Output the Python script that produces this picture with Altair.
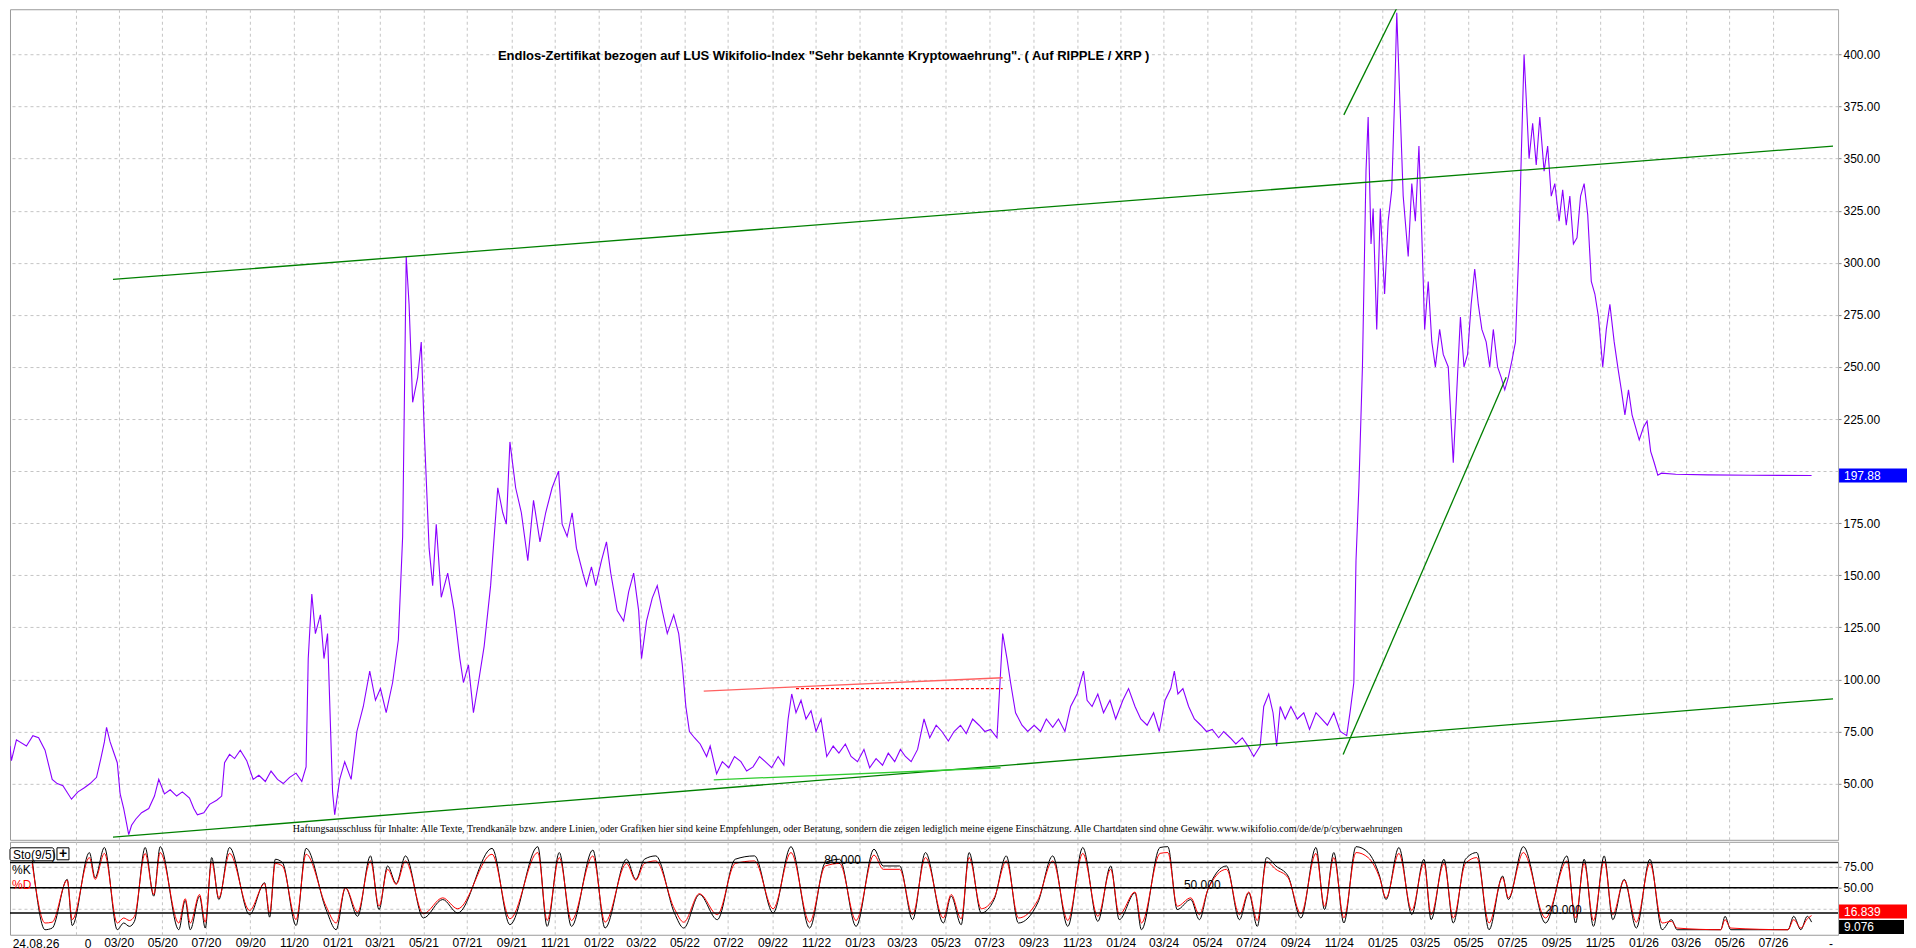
import altair as alt
import pandas as pd

# ---------------- price series (Endlos-Zertifikat) ----------------
price_dates = [
    "2019-10-01", "2019-10-03", "2019-10-10", "2019-10-24", "2019-11-02", "2019-11-10", "2019-11-19", "2019-11-29",
    "2019-12-06", "2019-12-14", "2019-12-26", "2020-01-04", "2020-01-13", "2020-01-21", "2020-01-30", "2020-02-05",
    "2020-02-10", "2020-02-13", "2020-02-18", "2020-02-22", "2020-02-28", "2020-03-03", "2020-03-08", "2020-03-15",
    "2020-03-19", "2020-03-25", "2020-04-02", "2020-04-12", "2020-04-20", "2020-04-26", "2020-05-04", "2020-05-12",
    "2020-05-21", "2020-05-29", "2020-06-08", "2020-06-14", "2020-06-19", "2020-06-28", "2020-07-06", "2020-07-16",
    "2020-07-23", "2020-07-27", "2020-08-03", "2020-08-10", "2020-08-18", "2020-08-27", "2020-09-05", "2020-09-13",
    "2020-09-22", "2020-09-30", "2020-10-09", "2020-10-17", "2020-10-26", "2020-11-04", "2020-11-12", "2020-11-18",
    "2020-11-21", "2020-11-26", "2020-12-01", "2020-12-08", "2020-12-13", "2020-12-18", "2020-12-25", "2020-12-28",
    "2021-01-04", "2021-01-11", "2021-01-20", "2021-01-28", "2021-02-06", "2021-02-15", "2021-02-23", "2021-03-02",
    "2021-03-10", "2021-03-19", "2021-03-27", "2021-04-02", "2021-04-07", "2021-04-11", "2021-04-16", "2021-04-23",
    "2021-04-28", "2021-05-02", "2021-05-09", "2021-05-14", "2021-05-19", "2021-05-26", "2021-06-04", "2021-06-13",
    "2021-06-21", "2021-06-26", "2021-07-03", "2021-07-10", "2021-07-17", "2021-07-25", "2021-08-03", "2021-08-08",
    "2021-08-13", "2021-08-20", "2021-08-25", "2021-08-30", "2021-09-07", "2021-09-15", "2021-09-24", "2021-10-02",
    "2021-10-11", "2021-10-19", "2021-10-28", "2021-11-06", "2021-11-11", "2021-11-18", "2021-11-25", "2021-12-01",
    "2021-12-10", "2021-12-15", "2021-12-22", "2021-12-28", "2022-01-05", "2022-01-12", "2022-01-18", "2022-01-27",
    "2022-02-05", "2022-02-12", "2022-02-19", "2022-02-26", "2022-03-02", "2022-03-09", "2022-03-17", "2022-03-24",
    "2022-03-31", "2022-04-07", "2022-04-16", "2022-04-23", "2022-04-28", "2022-05-03", "2022-05-08", "2022-05-15",
    "2022-05-23", "2022-06-01", "2022-06-06", "2022-06-15", "2022-06-23", "2022-07-02", "2022-07-10", "2022-07-19",
    "2022-07-27", "2022-08-05", "2022-08-14", "2022-08-22", "2022-08-31", "2022-09-09", "2022-09-17", "2022-09-23",
    "2022-09-28", "2022-10-04", "2022-10-11", "2022-10-18", "2022-10-25", "2022-11-01", "2022-11-08", "2022-11-16",
    "2022-11-25", "2022-12-03", "2022-12-12", "2022-12-20", "2022-12-29", "2023-01-07", "2023-01-15", "2023-01-24",
    "2023-02-02", "2023-02-10", "2023-02-19", "2023-02-27", "2023-03-06", "2023-03-14", "2023-03-23", "2023-04-01",
    "2023-04-09", "2023-04-18", "2023-04-26", "2023-05-05", "2023-05-13", "2023-05-22", "2023-05-30", "2023-06-08",
    "2023-06-17", "2023-06-25", "2023-07-03", "2023-07-12", "2023-07-20", "2023-07-26", "2023-07-31", "2023-08-07",
    "2023-08-16", "2023-08-24", "2023-09-02", "2023-09-11", "2023-09-19", "2023-09-28", "2023-10-06", "2023-10-15",
    "2023-10-23", "2023-11-01", "2023-11-10", "2023-11-15", "2023-11-22", "2023-11-30", "2023-12-08", "2023-12-17",
    "2023-12-25", "2024-01-04", "2024-01-12", "2024-01-21", "2024-01-29", "2024-02-07", "2024-02-16", "2024-02-24",
    "2024-03-03", "2024-03-11", "2024-03-16", "2024-03-21", "2024-03-28", "2024-04-05", "2024-04-13", "2024-04-22",
    "2024-04-30", "2024-05-08", "2024-05-17", "2024-05-24", "2024-06-02", "2024-06-10", "2024-06-19", "2024-06-27",
    "2024-07-05", "2024-07-14", "2024-07-19", "2024-07-26", "2024-08-01", "2024-08-06", "2024-08-11", "2024-08-18",
    "2024-08-26", "2024-09-04", "2024-09-13", "2024-09-21", "2024-09-30", "2024-10-08", "2024-10-16", "2024-10-25",
    "2024-11-03", "2024-11-12", "2024-11-17", "2024-11-22", "2024-11-25", "2024-11-29", "2024-12-04", "2024-12-09",
    "2024-12-12", "2024-12-16", "2024-12-19", "2024-12-24", "2024-12-29", "2025-01-04", "2025-01-09", "2025-01-14",
    "2025-01-18", "2025-01-21", "2025-01-24", "2025-01-30", "2025-02-06", "2025-02-11", "2025-02-16", "2025-02-21",
    "2025-02-26", "2025-03-01", "2025-03-06", "2025-03-11", "2025-03-16", "2025-03-22", "2025-03-27", "2025-04-03",
    "2025-04-10", "2025-04-15", "2025-04-20", "2025-04-25", "2025-04-30", "2025-05-05", "2025-05-10", "2025-05-15",
    "2025-05-20", "2025-05-26", "2025-05-31", "2025-06-05", "2025-06-11", "2025-06-16", "2025-06-21", "2025-06-26",
    "2025-07-01", "2025-07-06", "2025-07-11", "2025-07-14", "2025-07-18", "2025-07-21", "2025-07-25", "2025-07-30",
    "2025-08-04", "2025-08-09", "2025-08-15", "2025-08-20", "2025-08-25", "2025-08-30", "2025-09-05", "2025-09-10",
    "2025-09-15", "2025-09-20", "2025-09-25", "2025-09-30", "2025-10-05", "2025-10-10", "2025-10-15", "2025-10-20",
    "2025-10-25", "2025-10-30", "2025-11-05", "2025-11-10", "2025-11-15", "2025-11-21", "2025-11-26", "2025-12-01",
    "2025-12-06", "2025-12-11", "2025-12-16", "2025-12-21", "2025-12-26", "2026-01-01", "2026-01-06", "2026-01-11",
    "2026-01-16", "2026-01-21", "2026-01-26", "2026-02-15", "2026-04-01", "2026-06-01", "2026-08-24",
]
price_vals = [
    68, 61, 71, 68, 73, 72, 66, 52,
    50, 49, 42.5, 46, 48, 50, 53, 62,
    70, 77, 70, 66, 60, 45, 38, 25.5,
    30, 33, 36, 38, 44, 52, 45, 47,
    44, 46, 43, 38, 35, 36, 40, 42,
    44, 60, 64, 62, 66, 61, 52, 54,
    51, 56, 52, 50, 53, 55, 51, 58,
    110, 141, 122, 131, 110, 122, 46, 35,
    52, 60.5, 52, 75, 87, 104, 90, 95.6,
    84, 98.5, 119, 168.6, 303, 280, 233, 245,
    262, 221, 163, 145, 174.5, 139.4, 151, 133,
    110, 98.5, 107, 84, 98.5, 116, 145, 168.6,
    192, 180, 174.5, 214, 192, 180, 157, 186,
    166, 180, 192, 200, 174.5, 168.6, 180, 163,
    151, 145, 154, 145, 157, 166, 151, 133,
    128, 142, 151, 133, 110, 128, 139, 145,
    133, 122, 131, 122, 107, 87, 75, 72,
    69, 63, 68, 54.7, 60.5, 57.6, 63, 60.5,
    56, 58, 63, 60.5, 57.6, 63, 58.8, 81,
    93, 84, 90, 81, 85, 75, 81, 63,
    68, 64.6, 69, 63, 60.5, 66.4, 57.6, 62,
    58.8, 64.6, 60.5, 66.4, 63, 60.5, 66.4, 81,
    72, 78, 75, 70.4, 75, 78, 74, 81,
    78, 75, 76, 72, 122, 110, 98.5, 84,
    78, 75, 78, 75, 81, 77, 81, 75,
    87, 93, 104, 90, 87, 93, 84, 90,
    81, 90, 95.6, 87, 81, 78, 84, 75,
    90, 95.6, 104, 93, 95.6, 87, 81, 78,
    75, 76, 72, 75, 72, 69, 72, 68,
    63, 68, 87, 93, 84, 68, 87, 81,
    87, 81, 84, 76, 84, 81, 78, 84,
    75, 73, 85, 98.5, 157, 192, 250, 344,
    370, 309, 326, 268, 326, 285, 320, 335,
    379, 420, 391, 332, 303, 338, 320, 356,
    303, 268, 291, 262, 250, 268, 256, 250,
    204, 239, 274, 250, 256, 280, 297, 280,
    268, 262, 250, 268, 250, 245, 239, 245,
    253, 262, 309, 350, 400, 379, 350, 367,
    347, 370, 344, 356, 332, 338, 320, 335,
    318, 332, 309, 312, 332, 338, 323, 291,
    285, 274, 250, 268, 280, 262, 250, 239,
    227, 239, 227, 221, 215, 221, 224, 209.5,
    204, 198, 199, 198.5, 198.2, 198.0, 197.88,
]

# ---------------- stochastic Sto(9/5) ----------------
sto_dates = [
    "2019-11-01", "2019-11-19", "2019-11-29", "2019-12-20", "2019-12-27", "2020-01-20", "2020-01-28", "2020-02-10", "2020-02-28", "2020-03-08",
    "2020-03-16", "2020-03-23", "2020-04-07", "2020-04-19", "2020-04-28", "2020-05-24", "2020-06-02", "2020-06-09", "2020-06-22", "2020-06-30",
    "2020-07-09", "2020-07-19", "2020-08-03", "2020-08-31", "2020-09-21", "2020-09-28", "2020-10-06", "2020-10-16", "2020-11-04", "2020-11-18",
    "2020-12-16", "2020-12-30", "2021-01-12", "2021-01-29", "2021-02-16", "2021-02-28", "2021-03-12", "2021-03-24", "2021-04-06", "2021-05-01",
    "2021-05-28", "2021-06-18", "2021-08-05", "2021-08-30", "2021-10-08", "2021-10-21", "2021-11-07", "2021-11-24", "2021-12-24", "2022-01-10",
    "2022-02-09", "2022-02-22", "2022-03-06", "2022-03-22", "2022-04-17", "2022-04-30", "2022-05-22", "2022-06-16", "2022-07-11", "2022-08-07",
    "2022-09-02", "2022-09-27", "2022-10-23", "2022-11-14", "2022-12-04", "2022-12-27", "2023-01-21", "2023-02-03", "2023-02-26", "2023-03-16",
    "2023-04-03", "2023-04-28", "2023-05-09", "2023-05-23", "2023-06-03", "2023-06-20", "2023-07-08", "2023-07-25", "2023-08-11", "2023-09-07",
    "2023-09-28", "2023-10-19", "2023-11-09", "2023-11-30", "2023-12-18", "2023-12-30", "2024-01-21", "2024-01-30", "2024-02-25", "2024-03-07",
    "2024-03-20", "2024-04-08", "2024-04-20", "2024-05-02", "2024-05-28", "2024-06-15", "2024-06-28", "2024-07-10", "2024-07-23", "2024-08-05",
    "2024-08-22", "2024-09-09", "2024-09-30", "2024-10-12", "2024-10-25", "2024-11-08", "2024-11-25", "2024-12-12", "2024-12-28", "2025-01-06",
    "2025-01-24", "2025-02-11", "2025-02-28", "2025-03-10", "2025-03-28", "2025-04-10", "2025-04-27", "2025-05-13", "2025-05-30", "2025-06-18",
    "2025-06-26", "2025-07-17", "2025-08-17", "2025-09-16", "2025-09-28", "2025-10-10", "2025-10-23", "2025-11-07", "2025-11-19", "2025-12-05",
    "2025-12-22", "2026-01-10", "2026-01-27", "2026-02-09", "2026-02-17", "2026-04-19", "2026-04-25", "2026-05-03", "2026-07-22", "2026-07-30",
    "2026-08-09", "2026-08-18", "2026-08-24",
]
sto_k = [
    84, 0, 2, 60, 5, 92, 62, 98, 0, 8,
    4, 10, 98, 40, 99, 0, 35, 0, 40, 2,
    86, 36, 98, 18, 56, 15, 84, 80, 5, 97,
    24, 0, 50, 16, 88, 24, 76, 55, 88, 14,
    36, 20, 97, 6, 99, 4, 92, 4, 95, 2,
    84, 60, 84, 88, 20, 2, 42, 12, 84, 88,
    20, 99, 2, 80, 84, 4, 96, 76, 76, 12,
    92, 8, 40, 6, 92, 20, 36, 88, 8, 32,
    88, 4, 98, 10, 76, 12, 44, 0, 98, 99,
    24, 36, 12, 48, 76, 12, 44, 4, 86, 76,
    64, 14, 98, 24, 92, 8, 99, 92, 64, 36,
    98, 18, 84, 12, 84, 8, 84, 92, 0, 64,
    36, 99, 8, 88, 8, 84, 4, 88, 12, 60,
    2, 84, 0, 12, 0, 0, 16, 0, 0, 16,
    0, 16, 9.076,
]
sto_d = [
    79, 8, 9, 59, 12, 86, 60, 91, 8, 14,
    11, 16, 91, 42, 92, 8, 37, 8, 42, 9,
    81, 38, 91, 23, 55, 20, 79, 76, 12, 90,
    28, 8, 50, 21, 82, 28, 72, 54, 82, 19,
    38, 25, 90, 13, 92, 11, 86, 11, 88, 9,
    79, 59, 79, 82, 25, 9, 43, 18, 79, 82,
    25, 92, 9, 76, 79, 11, 89, 72, 72, 18,
    86, 14, 42, 13, 86, 25, 38, 82, 14, 35,
    82, 11, 91, 16, 72, 18, 45, 8, 91, 92,
    28, 38, 18, 48, 72, 18, 45, 11, 81, 72,
    62, 19, 91, 28, 86, 14, 92, 86, 62, 38,
    91, 23, 79, 18, 79, 14, 79, 86, 8, 62,
    38, 92, 14, 82, 14, 79, 11, 82, 18, 59,
    9, 79, 8, 10, 2, 0, 12, 2, 0, 12,
    2, 13, 16.839,
]
sto_levels = [20, 50, 80]
level_label_dates = ["2022-12-08", "2024-04-24", "2025-09-11"]

# ---------------- trend lines drawn on the chart ----------------
trend_x1 = ["2020-02-22", "2020-02-22", "2024-11-07", "2024-11-08", "2022-06-11", "2022-05-28"]
trend_y1 = [292, 24.3, 64, 371, 51.8, 94.4]
trend_x2 = ["2026-09-23", "2026-09-23", "2025-06-23", "2025-01-25", "2023-07-17", "2023-07-20"]
trend_y2 = [356, 90.7, 245, 425, 57.6, 100.8]
trend_colors = ["#008000", "#008000", "#008000", "#008000", "#2fcc2f", "#ff6060"]
dotted_x1 = ["2022-10-04"]
dotted_x2 = ["2023-07-20"]
dotted_y = [95.6]

price_ticks = list(range(50, 401, 25))
sto_ticks = [25, 50, 75]
tick_months = [(y, m) for y in range(2020, 2027) for m in (1, 3, 5, 7, 9, 11) if (y, m) <= (2026, 7)]

title_text = 'Endlos-Zertifikat bezogen auf LUS Wikifolio-Index "Sehr bekannte Kryptowaehrung". ( Auf RIPPLE / XRP )'
disclaimer = ("Haftungsausschluss für Inhalte: Alle Texte, Trendkanäle bzw. andere Linien, oder Grafiken hier sind keine "
              "Empfehlungen, oder Beratung, sondern die zeigen lediglich meine eigene Einschätzung. Alle Chartdaten sind "
              "ohne Gewähr. www.wikifolio.com/de/de/p/cyberwaehrungen")

# ---------------- layout constants ----------------
W = 1829
H1 = 831
H2 = 93
FONT = "Liberation Sans"
GRID = "#c4c4c4"

tick_vals = [alt.DateTime(year=y, month=m, date=1, utc=True) for (y, m) in tick_months]
xscale = alt.Scale(type="utc", domain=[alt.DateTime(year=2019, month=10, date=1, utc=True),
                                       alt.DateTime(year=2026, month=9, date=30, utc=True)])
yscale = alt.Scale(domain=[23, 421.7], nice=False, zero=False)
sscale = alt.Scale(domain=[-6, 104.8], nice=False, zero=False)

grid_axis_x = alt.Axis(values=tick_vals, grid=True, gridDash=[3, 3], gridColor=GRID, labels=False,
                       ticks=False, domain=False, title=None, minExtent=0, maxExtent=0)
# the 200.00 label sits behind the blue last-price box in the original, so it is left blank
price_axis_y = alt.Axis(orient="right", values=price_ticks, grid=True, gridDash=[3, 3],
                        gridColor=GRID, labelFontSize=12, labelColor="black", labelFont=FONT, tickSize=3,
                        tickColor="#888888", domainColor="#b0b0b0", title=None, labelPadding=2,
                        labelExpr="datum.value == 200 ? '' : format(datum.value, '.2f')")
sto_axis_x = alt.Axis(values=tick_vals, grid=True, gridDash=[3, 3], gridColor=GRID, ticks=False, domain=False,
                      title=None, labelFontSize=12, labelColor="black", labelFont=FONT, labelPadding=3,
                      labelFlush=False, labelOverlap=False,
                      labelExpr="utcFormat(datum.value, '%m/%y') == '01/20' ? '' : utcFormat(datum.value, '%m/%y')")
# the 25.00 label is covered by the red %D box in the original
sto_axis_y = alt.Axis(orient="right", values=sto_ticks, grid=True, gridDash=[3, 3], gridColor=GRID,
                      labelFontSize=12, labelColor="black", labelFont=FONT, tickSize=3, tickColor="#888888",
                      domainColor="#b0b0b0", title=None, labelPadding=2,
                      labelExpr="datum.value == 25 ? '' : format(datum.value, '.2f')")


def px(field):
    return alt.X(field, type="temporal", scale=xscale, axis=grid_axis_x)


def py(field):
    return alt.Y(field, type="quantitative", scale=yscale, axis=price_axis_y)


def sx(field):
    return alt.X(field, type="temporal", scale=xscale, axis=sto_axis_x)


def sy(field):
    return alt.Y(field, type="quantitative", scale=sscale, axis=sto_axis_y)


# ---------------- price panel ----------------
price_df = pd.DataFrame({"date": price_dates, "value": price_vals})
price_line = alt.Chart(price_df).mark_line(color="#8a00ff", strokeWidth=1.1, clip=True).encode(
    x=px("date"), y=py("value"))

trend_df = pd.DataFrame({"x1": trend_x1, "x2": trend_x2, "y1": trend_y1, "y2": trend_y2, "c": trend_colors})
trends = alt.Chart(trend_df).mark_rule(strokeWidth=1.3, clip=True).encode(
    x=px("x1"), x2=alt.X2("x2"), y=py("y1"), y2=alt.Y2("y2"),
    color=alt.Color("c:N", scale=None),
)
dot_df = pd.DataFrame({"x1": dotted_x1, "x2": dotted_x2, "y": dotted_y})
dotted = alt.Chart(dot_df).mark_rule(strokeWidth=1.2, color="#ff0000", strokeDash=[3, 2], clip=True).encode(
    x=px("x1"), x2=alt.X2("x2"), y=py("y"))

last_df = pd.DataFrame({"v": [price_vals[-1]], "t": [f"{price_vals[-1]:.2f}"]})
last_box = alt.Chart(last_df).mark_rect(color="#0000ff", yOffset=-7, y2Offset=7).encode(
    x=alt.value(W + 1), x2=alt.value(W + 69), y=py("v"), y2=alt.Y2("v"))
last_txt = alt.Chart(last_df).mark_text(color="white", align="left", baseline="middle", fontSize=12, font=FONT).encode(
    x=alt.value(W + 6), y=py("v"), text="t:N")

title_df = pd.DataFrame({"t": [title_text]})
title_mark = alt.Chart(title_df).mark_text(fontSize=13, fontWeight="bold", font=FONT, color="black",
                                           align="center", baseline="middle").encode(
    x=alt.value(814), y=alt.value(47), text="t:N")
disc_df = pd.DataFrame({"t": [disclaimer]})
disc_mark = alt.Chart(disc_df).mark_text(fontSize=10, font="Liberation Serif", color="black",
                                         align="center", baseline="middle").encode(
    x=alt.value(838), y=alt.value(820), text="t:N")

price_panel = alt.layer(price_line, trends, dotted, last_box, last_txt, title_mark, disc_mark).properties(
    width=W, height=H1)

# ---------------- stochastic panel ----------------
sto_df = pd.DataFrame({"date": sto_dates, "k": sto_k, "d": sto_d})
k_line = alt.Chart(sto_df).mark_line(color="black", strokeWidth=1, clip=True, interpolate="monotone").encode(
    x=sx("date"), y=sy("k"))
d_line = alt.Chart(sto_df).mark_line(color="#ff0000", strokeWidth=1, clip=True, interpolate="monotone").encode(
    x=sx("date"), y=sy("d"))

lvl_df = pd.DataFrame({"lvl": sto_levels})
levels = alt.Chart(lvl_df).mark_rule(color="black", strokeWidth=1.5).encode(y=sy("lvl"))
lvl_lab_df = pd.DataFrame({"date": level_label_dates, "lvl": sto_levels[::-1],
                           "t": [f"{v:.3f}" for v in sto_levels[::-1]]})
lvl_labels = alt.Chart(lvl_lab_df).mark_text(fontSize=12, font=FONT, color="black", baseline="bottom", dy=4).encode(
    x=sx("date"), y=sy("lvl"), text="t:N")

d_last = pd.DataFrame({"v": [sto_d[-1]], "t": [f"{sto_d[-1]:.3f}"]})
k_last = pd.DataFrame({"v": [sto_k[-1]], "t": [f"{sto_k[-1]:.3f}"]})
d_box = alt.Chart(d_last).mark_rect(color="#ff0000", yOffset=-11, y2Offset=3).encode(
    x=alt.value(W + 1), x2=alt.value(W + 69), y=sy("v"), y2=alt.Y2("v"))
d_txt = alt.Chart(d_last).mark_text(color="white", align="left", baseline="middle", fontSize=12, font=FONT, dy=-4).encode(
    x=alt.value(W + 6), y=sy("v"), text="t:N")
k_box = alt.Chart(k_last).mark_rect(color="#000000", yOffset=-2, y2Offset=12).encode(
    x=alt.value(W + 1), x2=alt.value(W + 66), y=sy("v"), y2=alt.Y2("v"))
k_txt = alt.Chart(k_last).mark_text(color="white", align="left", baseline="middle", fontSize=12, font=FONT, dy=5).encode(
    x=alt.value(W + 6), y=sy("v"), text="t:N")

leg_df = pd.DataFrame({"a": [0]})
sto_box = alt.Chart(leg_df).mark_rect(fill="white", stroke="black", strokeWidth=1, cornerRadius=2).encode(
    x=alt.value(0), x2=alt.value(44), y=alt.value(6), y2=alt.value(19))
sto_lab = alt.Chart(leg_df).mark_text(text="Sto(9/5)", fontSize=12, font=FONT, color="black",
                                      align="left", baseline="middle").encode(x=alt.value(3), y=alt.value(13))
plus_box = alt.Chart(leg_df).mark_rect(fill="white", stroke="black", strokeWidth=1).encode(
    x=alt.value(47), x2=alt.value(59), y=alt.value(6), y2=alt.value(18))
plus_lab = alt.Chart(leg_df).mark_text(text="+", fontSize=14, fontWeight="bold", font=FONT, color="black",
                                       align="center", baseline="middle").encode(x=alt.value(53), y=alt.value(12))
k_lab = alt.Chart(leg_df).mark_text(text="%K", fontSize=12, font=FONT, color="black",
                                    align="left", baseline="middle").encode(x=alt.value(2), y=alt.value(28))
d_lab = alt.Chart(leg_df).mark_text(text="%D", fontSize=12, font=FONT, color="#ff0000",
                                    align="left", baseline="middle").encode(x=alt.value(2), y=alt.value(43))
date_lab = alt.Chart(leg_df).mark_text(text="24.08.26", fontSize=12, font=FONT, color="black",
                                       align="center", baseline="middle").encode(x=alt.value(26), y=alt.value(H2 + 9))
zero_lab = alt.Chart(leg_df).mark_text(text="0", fontSize=12, font=FONT, color="black",
                                       align="center", baseline="middle").encode(x=alt.value(78), y=alt.value(H2 + 9))
dash_lab = alt.Chart(leg_df).mark_text(text="-", fontSize=12, font=FONT, color="black",
                                       align="center", baseline="middle").encode(x=alt.value(1822), y=alt.value(H2 + 9))

sto_panel = alt.layer(k_line, d_line, levels, lvl_labels, d_box, d_txt, k_box, k_txt,
                      sto_box, sto_lab, plus_box, plus_lab, k_lab, d_lab,
                      date_lab, zero_lab, dash_lab).properties(width=W, height=H2)

chart = alt.vconcat(price_panel, sto_panel, spacing=0).properties(
    padding={"left": 0, "top": 0, "right": 0, "bottom": 0}
).configure(font=FONT).configure_view(stroke="#9a9a9a")

chart.save("out.html", embed_options={"renderer": "svg", "actions": False})
